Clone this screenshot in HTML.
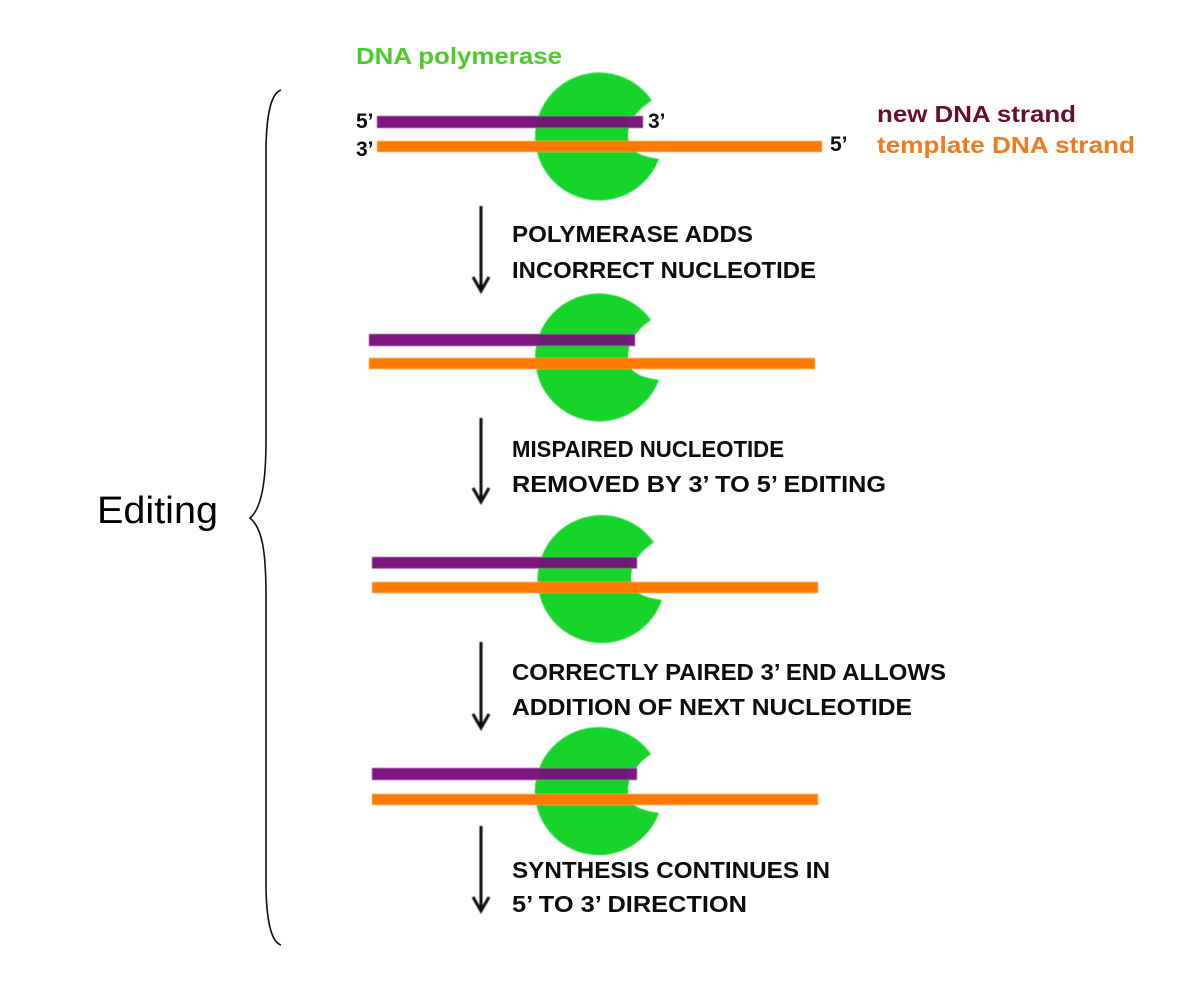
<!DOCTYPE html>
<html>
<head>
<meta charset="utf-8">
<style>
html,body{margin:0;padding:0;background:#fff;}
svg{display:block;}
.t{font-family:"Liberation Sans",sans-serif;font-weight:bold;font-size:23.5px;fill:#0c0c0c;}
.s{font-family:"Liberation Sans",sans-serif;font-weight:bold;font-size:21px;fill:#0c0c0c;}
.l{font-family:"Liberation Sans",sans-serif;font-weight:bold;font-size:23.5px;}
</style>
</head>
<body>
<svg width="1204" height="1008" viewBox="0 0 1204 1008" xmlns="http://www.w3.org/2000/svg">
<defs>
<filter id="b" x="0" y="0" width="1204" height="1008" filterUnits="userSpaceOnUse"><feGaussianBlur stdDeviation="0.55"/></filter>
<filter id="c" x="0" y="0" width="1204" height="1008" filterUnits="userSpaceOnUse"><feGaussianBlur stdDeviation="0.35"/></filter>
</defs>
<rect width="1204" height="1008" fill="#fff"/>

<g filter="url(#b)">
<g fill="#14d42c">
<path d="M652 100.500 A64 64 0 1 0 659 159 C640 156 628 152 628 135 C628 120 640 108 652 100.500 Z"/>
<path d="M651 320 A64 64 0 1 0 659 380 C640 377 628 373 628 356 C628 341 639 328 651 320 Z"/>
<path d="M654 542.500 A64 64 0 1 0 662 600 C643 597 631 593 631 577 C631 562 642 550 654 542.500 Z"/>
<path d="M651 754 A64 64 0 1 0 659 813 C640 810 628 806 628 790 C628 775 639 762 651 754 Z"/>
</g>
<g fill="#7e1482">
<rect x="377" y="116" width="266" height="12"/>
<rect x="369" y="334" width="266" height="12"/>
<rect x="372" y="557" width="265" height="11.500"/>
<rect x="372" y="768" width="265" height="12"/>
</g>
<g fill="#6c1a70">
<rect x="536" y="116" width="92" height="12"/>
<rect x="538" y="334" width="90" height="12"/>
<rect x="540" y="557" width="91" height="11.500"/>
<rect x="538" y="768" width="90" height="12"/>
</g>
<g fill="#ff7a05">
<rect x="377" y="141" width="445" height="11"/>
<rect x="369" y="358" width="446" height="11"/>
<rect x="372" y="582" width="446" height="11"/>
<rect x="372" y="794" width="446" height="11"/>
</g>
<g fill="none" stroke="#111" stroke-width="3">
<path d="M481 206 V291 M473 277 L481 291 L489 277"/>
<path d="M481 418 V502 M473 488 L481 502 L489 488"/>
<path d="M481 642 V728 M473 714 L481 728 L489 714"/>
<path d="M481 826 V911 M473 897 L481 911 L489 897"/>
</g>
</g>

<g filter="url(#c)">
<text class="l" x="356" y="64" fill="#4ccc2c" textLength="206" lengthAdjust="spacingAndGlyphs">DNA polymerase</text>
<text class="l" x="877" y="122" fill="#6b1028" textLength="199" lengthAdjust="spacingAndGlyphs">new DNA strand</text>
<text class="l" x="877" y="153" fill="#f07a1a" textLength="258" lengthAdjust="spacingAndGlyphs">template DNA strand</text>

<text class="s" x="356" y="128">5’</text>
<text class="s" x="356" y="156">3’</text>
<text class="s" x="648" y="128">3’</text>
<text class="s" x="830" y="151">5’</text>

<text class="t" x="512" y="242" textLength="241" lengthAdjust="spacingAndGlyphs">POLYMERASE ADDS</text>
<text class="t" x="512" y="278" textLength="304" lengthAdjust="spacingAndGlyphs">INCORRECT NUCLEOTIDE</text>
<text class="t" x="512" y="457" textLength="272" lengthAdjust="spacingAndGlyphs">MISPAIRED NUCLEOTIDE</text>
<text class="t" x="512" y="492" textLength="374" lengthAdjust="spacingAndGlyphs">REMOVED BY 3’ TO 5’ EDITING</text>
<text class="t" x="512" y="680" textLength="434" lengthAdjust="spacingAndGlyphs">CORRECTLY PAIRED 3’ END ALLOWS</text>
<text class="t" x="512" y="715" textLength="400" lengthAdjust="spacingAndGlyphs">ADDITION OF NEXT NUCLEOTIDE</text>
<text class="t" x="512" y="878" textLength="318" lengthAdjust="spacingAndGlyphs">SYNTHESIS CONTINUES IN</text>
<text class="t" x="512" y="912" textLength="235" lengthAdjust="spacingAndGlyphs">5’ TO 3’ DIRECTION</text>
</g>

<path d="M281 90 C272 93 267 110 266 145 L266 440 C266 480 262 508 250 518 C262 528 266 550 266 596 L266 890 C267 925 272 942 281 945" fill="none" stroke="#111" stroke-width="1.600"/>

<text x="97" y="523" font-family="Liberation Sans, sans-serif" font-size="38" fill="#000" textLength="121" lengthAdjust="spacingAndGlyphs">Editing</text>
</svg>
</body>
</html>
